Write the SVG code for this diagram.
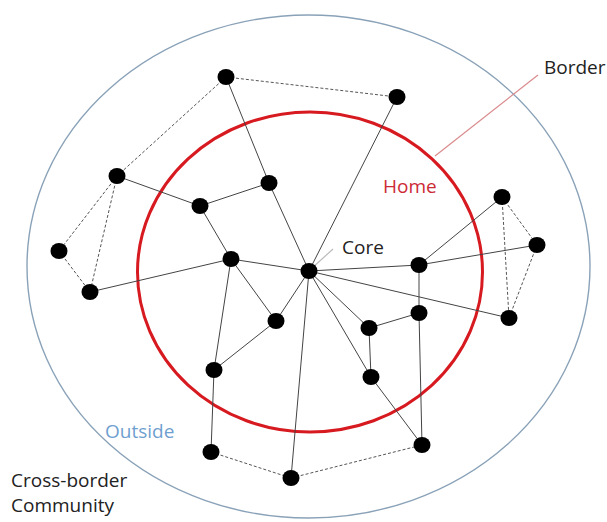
<svg xmlns="http://www.w3.org/2000/svg" width="607" height="522" viewBox="0 0 607 522">
<style>
.lbl{font-family:"Open Sans","Liberation Sans",sans-serif;font-size:19px;fill:#222}
.e{stroke:#444;stroke-width:1;fill:none}
.d{stroke:#555;stroke-width:1;stroke-dasharray:3 2;fill:none}
.n{fill:#000}
</style>
<rect width="607" height="522" fill="#fff"/>
<g id="regions">
<ellipse id="outside" cx="308.5" cy="266.5" rx="281.5" ry="251.5" fill="none" stroke="#8aa2b8" stroke-width="1.4"/>
<ellipse id="home" cx="310" cy="272" rx="172.5" ry="160" fill="none" stroke="#d71920" stroke-width="3"/>
<line x1="538" y1="75" x2="435" y2="156" stroke="#d98a8c" stroke-width="1.2"/>
<line x1="333" y1="249" x2="311" y2="269" stroke="#bbb" stroke-width="1.2"/>
</g>
<g id="connectors">
<line class="e" x1="226" y1="77" x2="269" y2="183"/>
<line class="e" x1="269" y1="183" x2="309" y2="271"/>
<line class="e" x1="269" y1="183" x2="200" y2="206"/>
<line class="e" x1="117" y1="176" x2="200" y2="206"/>
<line class="e" x1="200" y1="206" x2="231" y2="259"/>
<line class="e" x1="231" y1="259" x2="90" y2="292"/>
<line class="e" x1="231" y1="259" x2="309" y2="271"/>
<line class="e" x1="231" y1="259" x2="214" y2="370"/>
<line class="e" x1="231" y1="259" x2="276" y2="321"/>
<line class="e" x1="397" y1="97" x2="309" y2="271"/>
<line class="e" x1="309" y1="271" x2="419" y2="265"/>
<line class="e" x1="419" y1="265" x2="502" y2="197"/>
<line class="e" x1="419" y1="265" x2="537" y2="245"/>
<line class="e" x1="309" y1="271" x2="509" y2="318"/>
<line class="e" x1="309" y1="271" x2="276" y2="321"/>
<line class="e" x1="276" y1="321" x2="214" y2="370"/>
<line class="e" x1="309" y1="271" x2="291" y2="478"/>
<line class="e" x1="309" y1="271" x2="369" y2="328"/>
<line class="e" x1="309" y1="271" x2="371" y2="377"/>
<line class="e" x1="369" y1="328" x2="419" y2="313"/>
<line class="e" x1="369" y1="328" x2="371" y2="377"/>
<line class="e" x1="419" y1="265" x2="419" y2="313"/>
<line class="e" x1="419" y1="313" x2="422" y2="445"/>
<line class="e" x1="371" y1="377" x2="422" y2="445"/>
<line class="e" x1="214" y1="370" x2="211" y2="452"/>
<line class="d" x1="226" y1="77" x2="397" y2="97"/>
<line class="d" x1="226" y1="77" x2="117" y2="176"/>
<line class="d" x1="117" y1="176" x2="59" y2="251"/>
<line class="d" x1="117" y1="176" x2="90" y2="292"/>
<line class="d" x1="59" y1="251" x2="90" y2="292"/>
<line class="d" x1="502" y1="197" x2="537" y2="245"/>
<line class="d" x1="502" y1="197" x2="509" y2="318"/>
<line class="d" x1="537" y1="245" x2="509" y2="318"/>
<line class="d" x1="211" y1="452" x2="291" y2="478"/>
<line class="d" x1="291" y1="478" x2="422" y2="445"/>
</g>
<g id="nA"><ellipse class="n" cx="226" cy="77" rx="8.5" ry="8"/></g>
<g id="nB"><ellipse class="n" cx="397" cy="97" rx="8.5" ry="8"/></g>
<g id="nC"><ellipse class="n" cx="117" cy="176" rx="8.5" ry="8"/></g>
<g id="nD"><ellipse class="n" cx="269" cy="183" rx="8.5" ry="8"/></g>
<g id="nE"><ellipse class="n" cx="200" cy="206" rx="8.5" ry="8"/></g>
<g id="nF"><ellipse class="n" cx="59" cy="251" rx="8.5" ry="8"/></g>
<g id="nG"><ellipse class="n" cx="231" cy="259" rx="8.5" ry="8"/></g>
<g id="core"><ellipse class="n" cx="309" cy="271" rx="8.5" ry="8"/></g>
<g id="nI"><ellipse class="n" cx="419" cy="265" rx="8.5" ry="8"/></g>
<g id="nJ"><ellipse class="n" cx="502" cy="197" rx="8.5" ry="8"/></g>
<g id="nK"><ellipse class="n" cx="537" cy="245" rx="8.5" ry="8"/></g>
<g id="nL"><ellipse class="n" cx="509" cy="318" rx="8.5" ry="8"/></g>
<g id="nM"><ellipse class="n" cx="90" cy="292" rx="8.5" ry="8"/></g>
<g id="nN"><ellipse class="n" cx="276" cy="321" rx="8.5" ry="8"/></g>
<g id="nO"><ellipse class="n" cx="369" cy="328" rx="8.5" ry="8"/></g>
<g id="nP"><ellipse class="n" cx="419" cy="313" rx="8.5" ry="8"/></g>
<g id="nQ"><ellipse class="n" cx="214" cy="370" rx="8.5" ry="8"/></g>
<g id="nR"><ellipse class="n" cx="371" cy="377" rx="8.5" ry="8"/></g>
<g id="nS"><ellipse class="n" cx="211" cy="452" rx="8.5" ry="8"/></g>
<g id="nT"><ellipse class="n" cx="422" cy="445" rx="8.5" ry="8"/></g>
<g id="nU"><ellipse class="n" cx="291" cy="478" rx="8.5" ry="8"/></g>
<g id="labels">
<text class="lbl" x="544" y="74">Border</text>
<text class="lbl" x="342" y="254">Core</text>
<text class="lbl" x="383" y="193" style="fill:#cc2a36">Home</text>
<text class="lbl" x="105" y="438" style="fill:#6f9fd0">Outside</text>
<text class="lbl" x="11" y="487">Cross-border</text>
<text class="lbl" x="11" y="512">Community</text>
</g>
</svg>
